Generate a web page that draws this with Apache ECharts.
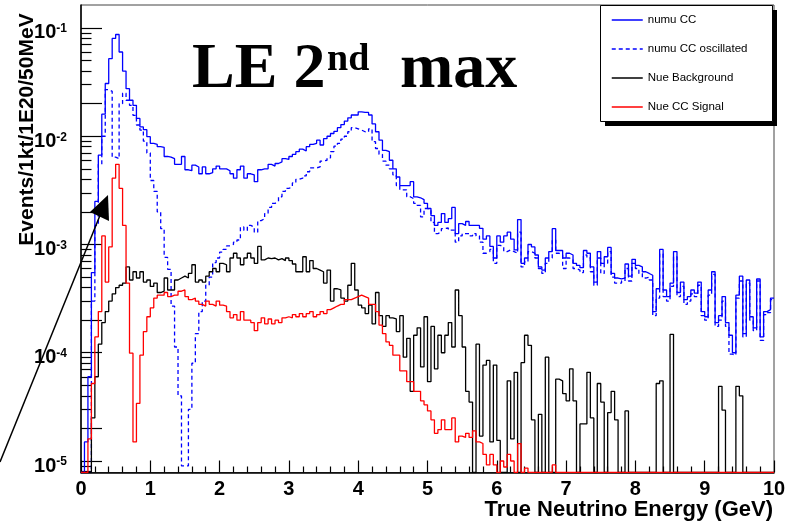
<!DOCTYPE html>
<html><head><meta charset="utf-8">
<script src="https://cdn.jsdelivr.net/npm/echarts@6/dist/echarts.min.js"></script>
<style>html,body{margin:0;padding:0;background:#fff}#c{width:794px;height:526px}</style>
</head><body><div id="c"></div>
<script>
// ---- data: 200 bins of 50 MeV from 0 to 10 GeV ----
const binWidth = 0.05;
const seriesNames = ['numu CC', 'numu CC oscillated', 'Nue Background', 'Nue CC Signal'];
const numuCC = [
0, 1.5e-5, 6e-5, 5.5e-4, 2.5e-3, 6.7e-3, 1.6e-2, 3.07e-2, 5.2e-2, 8.0e-2,
8.7e-2, 6.0e-2, 4.0e-2, 2.75e-2, 2.15e-2, 1.93e-2, 1.46e-2, 1.22e-2, 1.15e-2, 9.9e-3,
8.6e-3, 8.4e-3, 8.0e-3, 7.9e-3, 6.5e-3, 6.4e-3, 6.2e-3, 5.5e-3, 5.5e-3, 6.5e-3,
4.9e-3, 4.8e-3, 5.4e-3, 5.2e-3, 4.5e-3, 5.2e-3, 4.5e-3, 4.6e-3, 5.0e-3, 5.3e-3,
5.0e-3, 5.0e-3, 4.8e-3, 4.5e-3, 4.1e-3, 4.9e-3, 5.3e-3, 4.1e-3, 4.5e-3, 4.4e-3,
3.8e-3, 4.9e-3, 5.0e-3, 5.0e-3, 5.5e-3, 5.3e-3, 5.6e-3, 5.8e-3, 6.2e-3, 6.1e-3,
6.5e-3, 6.8e-3, 7.2e-3, 7.6e-3, 7.3e-3, 8.0e-3, 8.4e-3, 8.6e-3, 9.2e-3, 8.3e-3,
9.5e-3, 1.0e-2, 1.06e-2, 1.11e-2, 1.2e-2, 1.28e-2, 1.38e-2, 1.48e-2, 1.57e-2, 1.57e-2,
1.68e-2, 1.66e-2, 1.66e-2, 1.57e-2, 1.3e-2, 1.1e-2, 9.2e-3, 7.4e-3, 7.2e-3, 6.0e-3,
5.0e-3, 4.2e-3, 3.5e-3, 3.5e-3, 3.5e-3, 3.8e-3, 2.75e-3, 2.7e-3, 2.6e-3, 2.4e-3,
2.15e-3, 1.85e-3, 1.5e-3, 1.6e-3, 1.93e-3, 1.6e-3, 1.73e-3, 2.2e-3, 1.26e-3, 1.56e-3,
1.5e-3, 1.63e-3, 1.5e-3, 1.5e-3, 1.5e-3, 1.41e-3, 1.12e-3, 1.2e-3, 9.6e-4, 7.5e-4,
1.2e-3, 1.05e-3, 1.2e-3, 1.3e-3, 1.12e-3, 8.9e-4, 1.7e-3, 6.7e-4, 7.5e-4, 1.0e-3,
9.5e-4, 8.0e-4, 6.2e-4, 5.8e-4, 7.5e-4, 8.6e-4, 1.4e-3, 8.8e-4, 8.8e-4, 7.5e-4,
8.3e-4, 8.0e-4, 6.7e-4, 6.4e-4, 6.1e-4, 8.8e-4, 8.3e-4, 6.2e-4, 4.5e-4, 8.6e-4,
6.7e-4, 7.7e-4, 9.4e-4, 5.4e-4, 4.9e-4, 4.8e-4, 4.9e-4, 6.6e-4, 5.1e-4, 7.3e-4,
6.4e-4, 6.2e-4, 5.6e-4, 5.4e-4, 5.2e-4, 2.4e-4, 3.9e-4, 9.0e-4, 3.8e-4, 3.3e-4,
4.4e-4, 8.6e-4, 3.6e-4, 4.5e-4, 3.1e-4, 3.3e-4, 3.8e-4, 3.55e-4, 4.5e-4, 2.4e-4,
2.15e-4, 3.8e-4, 5.6e-4, 1.9e-4, 2.2e-4, 3.3e-4, 1.9e-4, 1.45e-4, 1.0e-4, 3.4e-4,
5.1e-4, 1.5e-4, 4.7e-4, 2.15e-4, 1.7e-4, 4.8e-4, 1.4e-4, 2.4e-4, 2.5e-4, 3.2e-4
];
const numuOsc = [
0, 0, 0, 3e-4, 1.5e-3, 5.5e-3, 1.0e-2, 2.7e-2, 2.6e-2, 6.4e-3,
6.2e-3, 2.0e-2, 2.5e-2, 2.15e-2, 1.93e-2, 1.56e-2, 1.27e-2, 1.14e-2, 9.0e-3, 7.0e-3,
3.9e-3, 3.1e-3, 2.0e-3, 1.4e-3, 7.6e-4, 5.9e-4, 2.7e-4, 1.13e-4, 4e-5, 9e-6,
9e-6, 3e-5, 8e-5, 1.5e-4, 2.4e-4, 3.0e-4, 4.2e-4, 5.0e-4, 6.8e-4, 7.5e-4,
8.5e-4, 9.0e-4, 9.7e-4, 1.0e-3, 1.05e-3, 1.1e-3, 1.45e-3, 1.35e-3, 1.5e-3, 1.45e-3,
1.3e-3, 1.66e-3, 1.73e-3, 1.93e-3, 2.2e-3, 2.4e-3, 2.5e-3, 2.76e-3, 3.1e-3, 3.3e-3,
3.4e-3, 3.7e-3, 4.0e-3, 4.1e-3, 4.3e-3, 4.7e-3, 5.1e-3, 5.1e-3, 5.2e-3, 5.9e-3,
6.0e-3, 6.3e-3, 7.2e-3, 8.1e-3, 8.6e-3, 9.4e-3, 1.0e-2, 1.1e-2, 1.2e-2, 1.17e-2,
1.14e-2, 1.1e-2, 1.1e-2, 1.17e-2, 8.9e-3, 7.7e-3, 6.8e-3, 5.9e-3, 5.4e-3, 5.0e-3,
4.4e-3, 3.5e-3, 3.2e-3, 3.2e-3, 2.76e-3, 2.65e-3, 2.4e-3, 2.3e-3, 1.8e-3, 2.15e-3,
2.1e-3, 1.6e-3, 1.26e-3, 1.3e-3, 1.4e-3, 1.42e-3, 1.36e-3, 1.36e-3, 1.05e-3, 1.2e-3,
1.26e-3, 1.26e-3, 1.2e-3, 1.26e-3, 1.2e-3, 1.05e-3, 8.3e-4, 8.6e-4, 9.0e-4, 6.7e-4,
9.8e-4, 9.5e-4, 8.6e-4, 8.9e-4, 8.6e-4, 8.3e-4, 1.3e-3, 6.2e-4, 6.9e-4, 8.6e-4,
8.3e-4, 7.5e-4, 6.0e-4, 5.4e-4, 6.7e-4, 7.5e-4, 1.1e-3, 8.3e-4, 8.0e-4, 6.0e-4,
7.5e-4, 7.3e-4, 6.0e-4, 5.8e-4, 5.5e-4, 8.0e-4, 7.5e-4, 5.6e-4, 4.2e-4, 7.5e-4,
5.4e-4, 6.7e-4, 8.6e-4, 5.0e-4, 4.4e-4, 4.4e-4, 4.6e-4, 6.0e-4, 4.6e-4, 6.7e-4,
6.0e-4, 5.4e-4, 4.9e-4, 5.0e-4, 4.7e-4, 2.2e-4, 3.2e-4, 8.2e-4, 3.3e-4, 3.0e-4,
4.1e-4, 7.7e-4, 3.3e-4, 4.1e-4, 2.8e-4, 3.0e-4, 3.5e-4, 3.3e-4, 4.2e-4, 2.2e-4,
2.0e-4, 3.4e-4, 5.3e-4, 1.75e-4, 2.0e-4, 3.0e-4, 1.75e-4, 9.7e-5, 9.5e-5, 3.2e-4,
4.6e-4, 1.4e-4, 4.4e-4, 2.0e-4, 1.6e-4, 4.6e-4, 1.3e-4, 2.25e-4, 2.35e-4, 3.1e-4
];
const nueBkg = [
0, 0, 0, 2.5e-5, 6e-5, 1.2e-4, 1.9e-4, 2.4e-4, 3.0e-4, 3.5e-4,
4.0e-4, 4.2e-4, 4.4e-4, 6.2e-4, 4.7e-4, 5.6e-4, 4.9e-4, 5.6e-4, 4.5e-4, 4.7e-4,
4.1e-4, 4.4e-4, 3.6e-4, 3.7e-4, 4.9e-4, 3.8e-4, 3.8e-4, 4.7e-4, 4.9e-4, 5.1e-4,
4.9e-4, 5.4e-4, 6.5e-4, 4.5e-4, 4.7e-4, 4.5e-4, 5.1e-4, 5.6e-4, 6.0e-4, 5.6e-4,
6.7e-4, 6.5e-4, 5.6e-4, 7.5e-4, 8.3e-4, 7.5e-4, 6.5e-4, 7.5e-4, 8.3e-4, 7.5e-4,
6.7e-4, 9.6e-4, 7.2e-4, 7.5e-4, 7.4e-4, 7.5e-4, 7.2e-4, 7.4e-4, 7.1e-4, 7.5e-4,
7.1e-4, 6.6e-4, 5.6e-4, 5.6e-4, 7.7e-4, 5.6e-4, 7.1e-4, 6.0e-4, 5.8e-4, 5.6e-4,
4.4e-4, 5.8e-4, 3.0e-4, 3.9e-4, 3.8e-4, 3.2e-4, 3.0e-4, 4.2e-4, 6.7e-4, 3.8e-4,
2.75e-4, 2.6e-4, 2.3e-4, 2.75e-4, 1.85e-4, 3.6e-4, 2.2e-4, 1.75e-4, 2.2e-4, 2.1e-4,
2.05e-4, 1.57e-4, 2.2e-4, 9.1e-5, 1.36e-4, 4.4e-5, 1.45e-4, 1.7e-4, 7.4e-5, 2.15e-4,
5.4e-5, 1.75e-4, 7.1e-5, 1.45e-4, 1.0e-4, 1.45e-4, 1.9e-4, 1.13e-4, 3.8e-4, 2.2e-4,
1.13e-4, 4.4e-5, 3.5e-5, 0, 1.2e-4, 1.7e-5, 7.7e-5, 8.5e-5, 1.5e-5, 7.7e-5,
1.55e-5, 0, 0, 5.5e-5, 1.6e-5, 6.6e-5, 0, 8.1e-5, 1.45e-4, 1.17e-4,
2.4e-5, 0, 2.7e-5, 0, 9.1e-5, 0, 0, 5.7e-5, 5.5e-5, 4.2e-5,
3.6e-5, 7.1e-5, 3.6e-5, 0, 2.2e-5, 2.2e-5, 6.6e-5, 2.5e-5, 0, 5.2e-5,
3.5e-5, 0, 2.8e-5, 4.4e-5, 2.4e-5, 0, 0, 2.9e-5, 0, 0,
0, 0, 0, 0, 0, 0, 5.2e-5, 5.5e-5, 0, 0,
1.48e-4, 0, 0, 0, 0, 0, 0, 0, 0, 0,
0, 0, 0, 0, 4.9e-5, 2.95e-5, 0, 0, 0, 4.9e-5,
4.0e-5, 0, 0, 0, 0, 0, 0, 0, 0, 0
];
const nueSig = [
0, 0, 1.6e-5, 5.2e-5, 1.4e-4, 2.4e-4, 1.2e-3, 4.5e-4, 9.5e-4, 4.1e-3,
5.5e-3, 3.3e-3, 1.5e-3, 4.4e-4, 9.9e-5, 1.5e-5, 3.4e-5, 9.5e-5, 1.57e-4, 2.15e-4,
2.6e-4, 3.2e-4, 3.4e-4, 3.4e-4, 3.6e-4, 3.3e-4, 3.4e-4, 3.4e-4, 3.7e-4, 3.8e-4,
3.3e-4, 3.1e-4, 3.2e-4, 3.0e-4, 2.8e-4, 2.7e-4, 3.0e-4, 2.8e-4, 2.7e-4, 3.0e-4,
2.75e-4, 2.7e-4, 2.4e-4, 2.1e-4, 2.25e-4, 2.0e-4, 2.4e-4, 2.0e-4, 2.0e-4, 1.9e-4,
1.6e-4, 1.9e-4, 2.1e-4, 1.85e-4, 2.05e-4, 1.85e-4, 2.0e-4, 1.9e-4, 2.1e-4, 2.15e-4,
2.1e-4, 2.25e-4, 2.15e-4, 2.3e-4, 2.15e-4, 2.3e-4, 2.4e-4, 2.15e-4, 2.25e-4, 2.4e-4,
2.3e-4, 2.5e-4, 2.6e-4, 2.7e-4, 2.8e-4, 2.8e-4, 3.1e-4, 3.1e-4, 3.2e-4, 3.3e-4,
3.4e-4, 3.3e-4, 3.2e-4, 2.8e-4, 2.8e-4, 2.4e-4, 1.8e-4, 1.5e-4, 1.26e-4, 1.17e-4,
9.5e-5, 9.5e-5, 6.8e-5, 6.8e-5, 5.4e-5, 5.4e-5, 4.4e-5, 4.4e-5, 3.6e-5, 3.3e-5,
2.9e-5, 2.4e-5, 1.8e-5, 1.95e-5, 2.4e-5, 1.95e-5, 1.95e-5, 2.5e-5, 1.5e-5, 1.7e-5,
1.65e-5, 1.8e-5, 1.65e-5, 1.9e-5, 1.5e-5, 1.45e-5, 1.15e-5, 9.2e-6, 1.15e-5, 9.2e-6,
0, 1.0e-5, 8.8e-6, 1.15e-5, 1.0e-5, 0, 1.45e-5, 0, 8.6e-6, 0,
0, 0, 0, 0, 0, 0, 9.2e-6, 0, 0, 0,
0, 0, 0, 0, 0, 0, 0, 0, 0, 0,
0, 0, 0, 0, 0, 0, 0, 0, 0, 0,
0, 0, 0, 0, 0, 0, 0, 0, 0, 0,
0, 0, 0, 0, 0, 0, 0, 0, 0, 0,
0, 0, 0, 0, 0, 0, 0, 0, 0, 0,
0, 0, 0, 0, 0, 0, 0, 0, 0, 0
];
// axis ticks / labels
const yLabelValues = [1e-5, 1e-4, 1e-3, 1e-2, 1e-1];
const yLongTicks = [1e-5, 2e-5, 1e-4, 2e-4, 1e-3, 2e-3, 1e-2, 2e-2, 1e-1];
const yShortTicks = [8e-6, 9e-6,
  3e-5, 4e-5, 5e-5, 6e-5, 7e-5, 8e-5, 9e-5,
  3e-4, 4e-4, 5e-4, 6e-4, 7e-4, 8e-4, 9e-4,
  3e-3, 4e-3, 5e-3, 6e-3, 7e-3, 8e-3, 9e-3,
  3e-2, 4e-2, 5e-2, 6e-2, 7e-2, 8e-2, 9e-2];
const xMin = 0, xMax = 10, xInterval = 1;
const yMin = 7.83e-6, yMax = 0.163;

const SANS = '"Liberation Sans", Arial, Helvetica, sans-serif';
const SERIF = '"Liberation Serif", "Times New Roman", serif';

function toSteps(arr) {
  const pts = arr.map((v, i) => [+(i * binWidth).toFixed(2), v > 0 ? v : yMin]);
  pts.push([+(arr.length * binWidth).toFixed(2), pts[pts.length - 1][1]]);
  return pts;
}
function mkSeries(name, arr, color, dashed, z) {
  return {
    name, type: 'line', step: 'end', data: toSteps(arr),
    symbol: 'none', showSymbol: false, clip: true, silent: true, z: z,
    lineStyle: { color, width: 1.3, type: dashed ? [4, 3] : 'solid' },
    itemStyle: { color }
  };
}

const chart = echarts.init(document.getElementById('c'), null, { renderer: 'canvas', width: 794, height: 526 });
const option = {
  animation: false,
  backgroundColor: '#ffffff',
  grid: { left: 81, top: 5, right: 20, bottom: 53.5, show: true, borderColor: '#444', borderWidth: 1, backgroundColor: 'transparent' },
  legend: {
    orient: 'vertical', left: 606, top: 8, itemWidth: 31, itemHeight: 14, itemGap: 15,
    textStyle: { fontFamily: SANS, fontSize: 11.5, color: '#000', lineHeight: 14 },
    itemStyle: { opacity: 0, borderWidth: 0 },
    lineStyle: { width: 1.5 },
    data: seriesNames, selectedMode: false, z: 12
  },
  xAxis: {
    type: 'value', min: xMin, max: xMax, interval: xInterval,
    axisLine: { lineStyle: { color: '#000', width: 1.5 } },
    axisTick: { inside: true, length: 12, lineStyle: { color: '#000', width: 1.2 } },
    minorTick: { show: true, splitNumber: 5, length: 6, lineStyle: { color: '#000', width: 1.2 } },
    splitLine: { show: false }, minorSplitLine: { show: false },
    axisLabel: { color: '#000', fontFamily: SANS, fontWeight: 'bold', fontSize: 20, margin: 7 }
  },
  yAxis: [{
    type: 'log', logBase: 10, min: yMin, max: yMax,
    axisLine: { show: true, lineStyle: { color: '#000', width: 1.5 } },
    axisTick: { show: true, inside: true, length: 21, customValues: yLongTicks, lineStyle: { color: '#000', width: 1.2 } },
    splitLine: { show: false },
    axisLabel: {
      customValues: yLabelValues, margin: 14, padding: [12, 0, 0, 0],
      formatter: v => '{b|10}{s|' + Math.round(Math.log10(v)) + '}',
      rich: {
        b: { fontFamily: SANS, fontWeight: 'bold', fontSize: 20, color: '#000', lineHeight: 22, verticalAlign: 'top' },
        s: { fontFamily: SANS, fontWeight: 'bold', fontSize: 12, color: '#000', lineHeight: 22, verticalAlign: 'top' }
      }
    }
  }, {
    type: 'log', logBase: 10, min: yMin, max: yMax, position: 'left',
    axisLine: { show: false },
    axisTick: { show: true, inside: true, length: 10.5, customValues: yShortTicks, lineStyle: { color: '#000', width: 1.2 } },
    axisLabel: { show: false }, splitLine: { show: false }
  }],
  graphic: [
    { type: 'rect', z: 10, shape: { x: 605, y: 10, width: 172, height: 116 }, style: { fill: '#000' } },
    { type: 'rect', z: 11, shape: { x: 600.5, y: 5.5, width: 172, height: 116 }, style: { fill: '#fff', stroke: '#000', lineWidth: 1 } },
    { type: 'text', z: 11, x: 192, y: 70, style: { text: 'LE 2', font: 'bold 64px ' + SERIF, fill: '#000', align: 'left', verticalAlign: 'middle', textAlign: 'left', textVerticalAlign: 'middle' } },
    { type: 'text', z: 11, x: 327, y: 60, style: { text: 'nd', font: 'bold 38px ' + SERIF, fill: '#000', align: 'left', verticalAlign: 'middle', textAlign: 'left', textVerticalAlign: 'middle' } },
    { type: 'text', z: 11, x: 400, y: 70, style: { text: 'max', font: 'bold 64px ' + SERIF, fill: '#000', align: 'left', verticalAlign: 'middle', textAlign: 'left', textVerticalAlign: 'middle' } },
    { type: 'text', z: 11, x: 27.5, y: 129.5, rotation: Math.PI / 2, style: { text: 'Events/1kt/1E20/50MeV', font: 'bold 21px ' + SANS, fill: '#000', align: 'center', verticalAlign: 'middle', textAlign: 'center', textVerticalAlign: 'middle' } },
    { type: 'text', z: 11, x: 773, y: 510, style: { text: 'True Neutrino Energy (GeV)', font: 'bold 22px ' + SANS, fill: '#000', align: 'right', verticalAlign: 'middle', textAlign: 'right', textVerticalAlign: 'middle' } },
    { type: 'line', z: 11, shape: { x1: 0, y1: 462, x2: 103, y2: 208 }, style: { stroke: '#000', lineWidth: 1.5 } },
    { type: 'polygon', z: 11, shape: { points: [[90, 212], [108, 195], [109, 221]] }, style: { fill: '#000' } }
  ],
  series: [
    mkSeries(seriesNames[0], numuCC, '#0000ff', false, 3),
    mkSeries(seriesNames[1], numuOsc, '#0000ff', true, 4),
    mkSeries(seriesNames[2], nueBkg, '#000000', false, 5),
    mkSeries(seriesNames[3], nueSig, '#ff0000', false, 6)
  ]
};
chart.setOption(option);
</script>
</body></html>
